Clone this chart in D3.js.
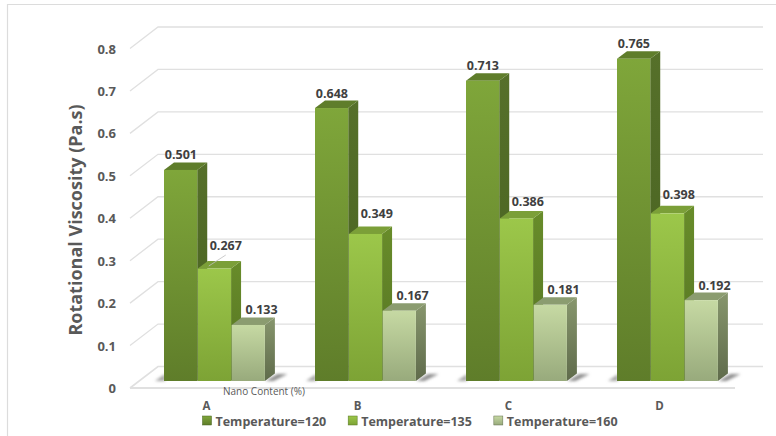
<!DOCTYPE html>
<html>
<head>
<meta charset="utf-8">
<script src="https://cdn.jsdelivr.net/npm/d3@7/dist/d3.min.js"></script>
<style>
  html, body { margin: 0; padding: 0; background: #fff; }
  svg { display: block; font-family: "Open Sans", "Noto Sans", sans-serif; }
</style>
</head>
<body>
<svg id="chart" width="776" height="436"></svg>
<script>
// Rotational viscosity of the binder by nano content and temperature
const categories = ["A", "B", "C", "D"];
const temperatures = ["Temperature=120", "Temperature=135", "Temperature=160"];
const visc120 = [0.501, 0.648, 0.713, 0.765];
const visc135 = [0.267, 0.349, 0.386, 0.398];
const visc160 = [0.133, 0.167, 0.181, 0.192];
const tickValues = [0, 0.1, 0.2, 0.3, 0.4, 0.5, 0.6, 0.7, 0.8];
const yTitle = "Rotational Viscosity (Pa.s)";
const xTitle = "Nano Content (%)";

const seriesValues = [visc120, visc135, visc160];

const textGray = "#595959";
const seriesColors = [
  { front: ["#7fa63a", "#5f7d2a"], side: ["#56702a", "#46601f"], top: "#5f7d2b" },
  { front: ["#9cc74a", "#7da335"], side: ["#688c2a", "#557322"], top: "#7b9f38" },
  { front: ["#c6d9a3", "#98aa7c"], side: ["#87966d", "#5f6b4b"], top: "#8b9c70" }
];

const svg = d3.select("#chart");
const defs = svg.append("defs");

seriesColors.forEach((c, i) => {
  ["front", "side"].forEach(face => {
    const g = defs.append("linearGradient")
      .attr("id", `${face}${i}`)
      .attr("x1", 0).attr("y1", 0).attr("x2", 0).attr("y2", 1);
    g.append("stop").attr("offset", "0%").attr("stop-color", c[face][0]);
    g.append("stop").attr("offset", "100%").attr("stop-color", c[face][1]);
  });
});
defs.append("filter").attr("id", "soft")
  .attr("x", "-40%").attr("y", "-80%").attr("width", "180%").attr("height", "260%")
  .append("feGaussianBlur").attr("stdDeviation", 1.6);

// Outer frame of the chart area
svg.append("path")
  .attr("d", "M7.5,436V4.5H776")
  .attr("fill", "none").attr("stroke", "#dcdcdc").attr("stroke-width", 1.2);

// Oblique projection: the floor and back wall sit behind the bars
const depthWall = { dx: 28, dy: -21.5 };
const depthBar = { dx: 10, dy: -7.5 };

const yFront = d3.scaleLinear().domain([0, 0.8]).range([388, 48.5]);
const yBar = d3.scaleLinear().domain([0, 0.8]).range([381, 44]);
const xWall = d3.scaleLinear().domain([0, 1]).range([130, 735]);

const xGroup = d3.scaleBand().domain(categories).range([164, 768]);
const xSeries = d3.scaleBand().domain(d3.range(3)).range([0, 101.5]);

// Gridlines: one stroke along the side wall and one along the back wall
const grid = svg.append("g").attr("fill", "none").attr("stroke", "#e0e0e0");
grid.selectAll("path").data(tickValues).join("path")
  .attr("stroke-width", d => d === 0 ? 1.6 : 1.3)
  .attr("d", d => {
    const x0 = xWall(0), y0 = yFront(d);
    const x1 = x0 + depthWall.dx, y1 = y0 + depthWall.dy;
    return `M${x0},${y0}L${x1},${y1}H${xWall(1) + depthWall.dx}`;
  });
grid.append("path")
  .attr("stroke-width", 1.8)
  .attr("d", `M${xWall(0)},${yFront(0)}H${xWall(1)}`);

// Value axis labels
svg.append("g").selectAll("text").data(tickValues).join("text")
  .attr("x", 116).attr("y", d => yFront(d) + 5)
  .attr("text-anchor", "end")
  .attr("font-size", 13).attr("font-weight", 700).attr("fill", textGray)
  .text(d => d3.format("")(d));

svg.append("text")
  .attr("transform", "translate(82,220) rotate(-90)")
  .attr("text-anchor", "middle")
  .attr("font-size", 18).attr("font-weight", 700).attr("fill", textGray)
  .text(yTitle);

// Floor shadows cast to the right of each cluster
const shadow = svg.append("g").attr("filter", "url(#soft)");
categories.forEach(cat => {
  const x0 = xGroup(cat), x1 = x0 + xSeries.step() * 3, y = yBar(0);
  shadow.append("path")
    .attr("fill", "#8c8c8c")
    .attr("d", `M${x1},${y}L${x1 + 12},${y - 7}H${x1 + 22}L${x1 + 8},${y}Z`);
  shadow.append("path")
    .attr("fill", "#a6a6a6")
    .attr("d", `M${x0 + 1},${y}H${x0 - 9}L${x0 + 1},${y - 7}Z`);
});

// Bars are painted left to right so each front face covers its neighbour's side face
const bars = svg.append("g");
categories.forEach((cat, ci) => {
  d3.range(3).forEach(si => {
    const v = seriesValues[si][ci];
    const x0 = xGroup(cat) + xSeries(si), w = xSeries.bandwidth() - 0.6;
    const yTop = yBar(v), yBase = yBar(0);
    const { dx, dy } = depthBar;
    const g = bars.append("g");
    g.append("path").attr("fill", `url(#side${si})`)
      .attr("d", `M${x0 + w},${yTop}L${x0 + w + dx},${yTop + dy}V${yBase + dy}L${x0 + w},${yBase}Z`);
    g.append("path").attr("fill", seriesColors[si].top)
      .attr("d", `M${x0},${yTop}L${x0 + dx},${yTop + dy}H${x0 + w + dx}L${x0 + w},${yTop}Z`);
    g.append("rect").attr("fill", `url(#front${si})`)
      .attr("x", x0).attr("y", yTop).attr("width", w).attr("height", yBase - yTop);
  });
});

// Value labels above each bar, lifted clear of the neighbouring bar's side
const labelShiftX = [0, 11, 13];
const labelLift = [
  [7, 7, 7, 7],
  [15, 12, 9, 11],
  [7, 7, 7, 7]
];
const labels = svg.append("g");
categories.forEach((cat, ci) => {
  d3.range(3).forEach(si => {
    const v = seriesValues[si][ci];
    const cx = xGroup(cat) + xSeries(si) + xSeries.bandwidth() / 2;
    const top = yBar(v) + depthBar.dy;
    const lift = labelLift[si][ci];
    const lx = cx + labelShiftX[si];
    // A moved label keeps a thin leader back to its bar
    if (lift >= 15) {
      labels.append("line")
        .attr("x1", lx).attr("y1", top - lift + 9)
        .attr("x2", cx - 6).attr("y2", top + 5)
        .attr("stroke", "#bfbfbf").attr("stroke-width", 0.8);
    }
    labels.append("text")
      .attr("x", lx)
      .attr("y", top - lift + 4)
      .attr("text-anchor", "middle")
      .attr("font-size", 12.5).attr("font-weight", 700).attr("fill", "#404040")
      .text(d3.format(".3f")(v));
  });
});

// Category labels and the axis title
svg.append("g").selectAll("text").data(categories).join("text")
  .attr("x", d => xGroup(d) + 42.5).attr("y", 410)
  .attr("text-anchor", "middle")
  .attr("font-size", 11.5).attr("font-weight", 700).attr("fill", textGray)
  .text(d => d);

svg.append("text")
  .attr("x", 264).attr("y", 395)
  .attr("text-anchor", "middle")
  .attr("font-size", 10).attr("fill", textGray)
  .text(xTitle);

// Legend
const xLegend = d3.scaleBand().domain(temperatures).range([203, 640]);
const legend = svg.append("g").selectAll("g").data(temperatures).join("g")
  .attr("transform", d => `translate(${xLegend(d) - 0.5},416)`);
legend.append("rect")
  .attr("width", 9).attr("height", 9)
  .attr("stroke", (d, i) => seriesColors[i].side[1]).attr("stroke-width", 0.5)
  .attr("fill", (d, i) => `url(#front${i})`);
legend.append("text")
  .attr("x", 13).attr("y", 9.5)
  .attr("font-size", 12.5).attr("font-weight", 700).attr("fill", textGray)
  .text(d => d);
</script>
</body>
</html>
